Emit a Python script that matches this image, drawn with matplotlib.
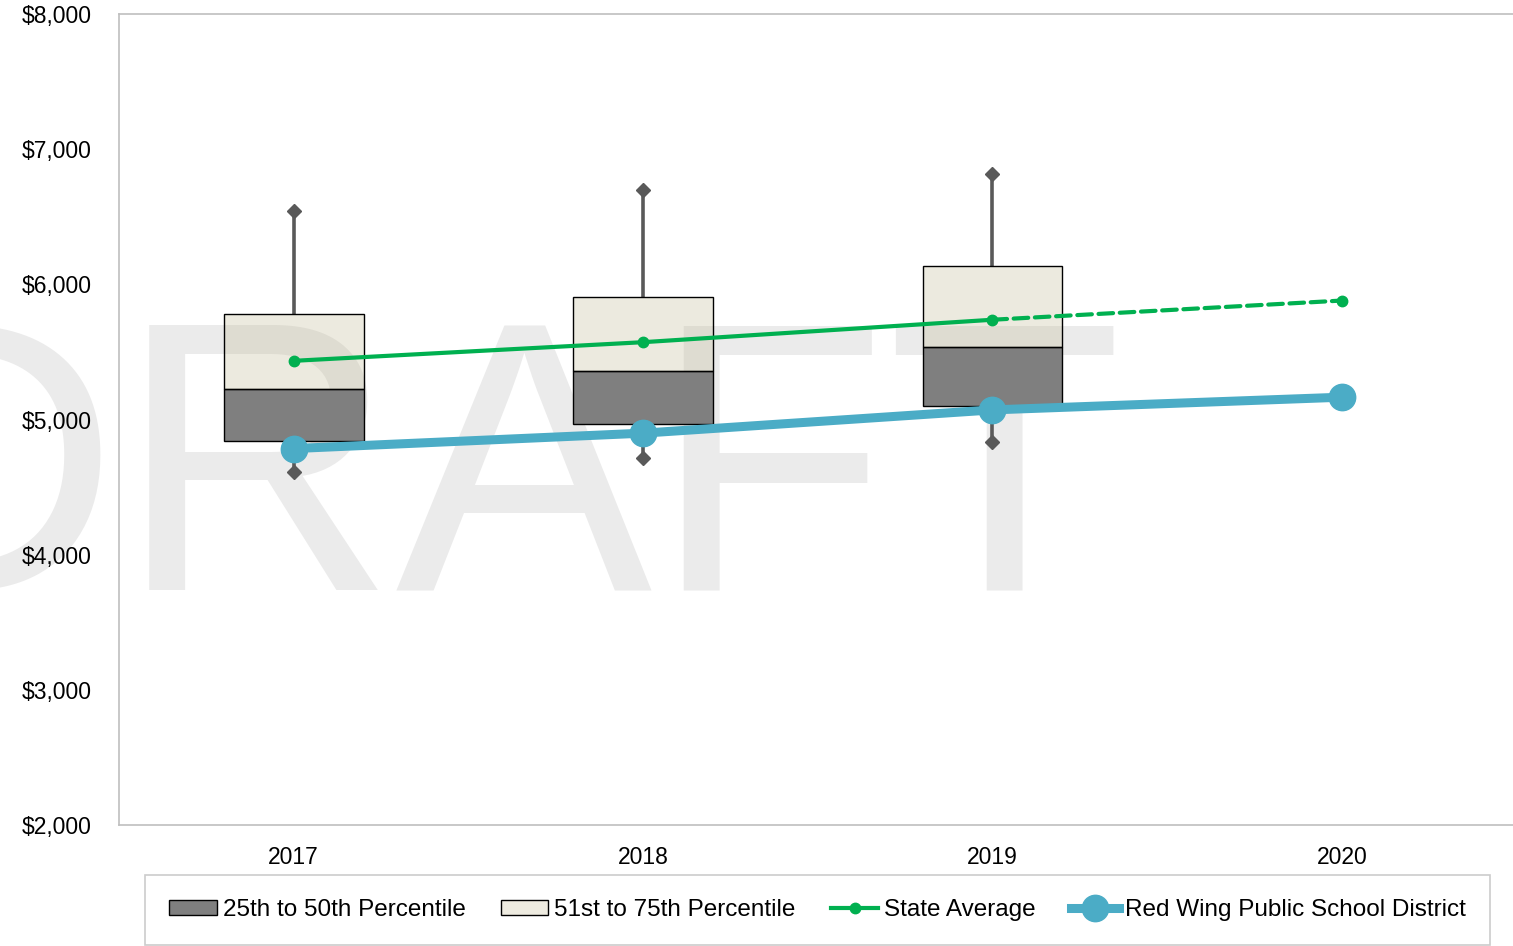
import matplotlib
matplotlib.use("Agg")
import matplotlib.pyplot as plt
from matplotlib.patches import Patch
from matplotlib.lines import Line2D
import numpy as np

plt.rcParams['font.family'] = ['Liberation Sans', 'DejaVu Sans']

years = ["2017", "2018", "2019", "2020"]
box_years = ["2017", "2018", "2019"]
p_min = [4615, 4714, 4832]
p25 = [4844, 4968, 5101]
p50 = [5225, 5360, 5535]
p75 = [5780, 5903, 6132]
p_max = [6546, 6695, 6818]
state_avg = [5434, 5572, 5738, 5880]
district = [4785, 4899, 5071, 5165]
yticks = [2000, 3000, 4000, 5000, 6000, 7000, 8000]

W, H = 1513, 946
fig = plt.figure(figsize=(W / 100, H / 100), dpi=100)
ax = fig.add_axes([119 / W, (H - 825) / H, (1516.5 - 119) / W, (825 - 14) / H])

x = np.arange(len(years))
xb = np.arange(len(box_years))
bw = 0.40
dark = "#7f7f7f"
light = (195 / 255, 188 / 255, 152 / 255, 0.30)
wcol = "#595959"

lo = np.array(p25); me = np.array(p50); hi = np.array(p75)
ax.bar(xb, me - lo, bottom=lo, width=bw, color=dark, edgecolor="black", linewidth=1.0, zorder=2)
ax.bar(xb, hi - me, bottom=me, width=bw, facecolor=light, edgecolor="black", linewidth=1.0, zorder=2)
# whiskers
ax.vlines(xb, hi, p_max, color=wcol, linewidth=2.6, zorder=1.5)
ax.vlines(xb, p_min, lo, color=wcol, linewidth=2.6, zorder=1.5)
ax.plot(xb, p_max, linestyle="none", marker="D", markersize=7.5, color=wcol, zorder=2)
ax.plot(xb, p_min, linestyle="none", marker="D", markersize=7.5, color=wcol, zorder=2)

green = "#00b050"
blue = "#4bacc6"
ax.plot(x[:3], state_avg[:3], color=green, linewidth=3.0, marker="o", markersize=7.5, zorder=4)
ax.plot(x[2:], state_avg[2:], color=green, linewidth=3.0, linestyle=(0, (3.5, 1.6)), dash_capstyle="round",
        marker="o", markersize=7.5, markevery=[1], zorder=4)
ax.plot(x, district, color=blue, linewidth=6.5, marker="o", markersize=19, zorder=5)

# watermark (behind the marks)
ax.text(1123 / W, (H - 590) / H, "DRAFT", transform=fig.transFigure, ha="right", va="baseline",
        fontsize=277, color="#ebebeb", zorder=0.5, clip_on=False)

ax.set_xlim(-0.5, 3.5)
ax.set_ylim(2000, 8000)
ax.set_xticks(x)
ax.set_xticklabels(years)
ax.set_yticks(yticks)
ax.set_yticklabels([f"${v:,}" for v in yticks])
ax.tick_params(axis="both", length=0, labelsize=16.5, colors="black")
ax.tick_params(axis="y", pad=20)
ax.tick_params(axis="x", pad=15)
for s in ax.spines.values():
    s.set_color("#bfbfbf")
    s.set_linewidth(1.2)

handles = [
    Patch(facecolor=dark, edgecolor="black", linewidth=1.0),
    Patch(facecolor="#eeebe0", edgecolor="black", linewidth=1.0),
    Line2D([], [], color=green, linewidth=3.0, marker="o", markersize=7.5),
    Line2D([], [], color=blue, linewidth=6.5, marker="o", markersize=19),
]
labels = ["25th to 50th Percentile", "51st to 75th Percentile", "State Average", "Red Wing Public School District"]
leg = fig.legend(handles, labels, loc="center", bbox_to_anchor=(817.5 / W, (H - 910) / H), ncol=4,
                 fontsize=17.5, frameon=True, fancybox=False, edgecolor="#bfbfbf", handlelength=1.95,
                 handleheight=0.55, handletextpad=0.25, columnspacing=1.45, borderpad=1.0,
                 borderaxespad=0)
leg.get_frame().set_linewidth(1.2)

fig.savefig("out.png", dpi=100)
